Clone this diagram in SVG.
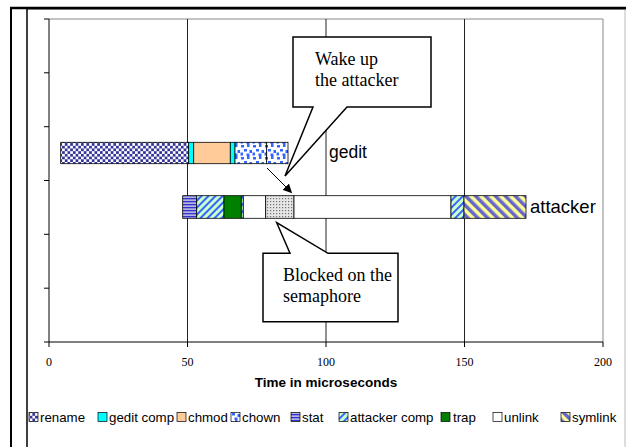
<svg xmlns="http://www.w3.org/2000/svg" width="626" height="447" viewBox="0 0 626 447">
<style>
.frame{fill:none;stroke:#000}
.grid{stroke:#222;stroke-width:1}
.axis{stroke:#000;stroke-width:1;fill:none}
.pborder{stroke:#888;stroke-width:1;fill:none}
.seg{stroke:#000;stroke-width:0.8}
.tick{font-family:"Liberation Serif","Times New Roman",serif;font-size:12px;fill:#000;text-anchor:middle}
.xtitle{font-family:"Liberation Sans",Arial,sans-serif;font-size:13.5px;font-weight:bold;fill:#000;text-anchor:middle}
.lbl{font-family:"Liberation Sans",Arial,sans-serif;font-size:17.5px;fill:#000}
.leg{font-family:"Liberation Sans",Arial,sans-serif;font-size:13.3px;fill:#000}
.call{fill:#fff;stroke:#000;stroke-width:1.5;stroke-linejoin:miter}
.ctext{font-family:"Liberation Serif","Times New Roman",serif;font-size:18px;fill:#000}
.icon{stroke:#000;stroke-width:0.7}
</style>
<defs>
<pattern id="pRename" width="5.4" height="5.4" patternUnits="userSpaceOnUse">
<rect width="5.4" height="5.4" fill="#333399"/>
<rect x="0" y="0" width="2.7" height="2.7" fill="#fff"/>
<rect x="2.7" y="2.7" width="2.7" height="2.7" fill="#fff"/>
</pattern>
<pattern id="pChown" width="12" height="12" patternUnits="userSpaceOnUse">
<rect width="12" height="12" fill="#fff"/>
<rect x="1" y="1" width="3" height="2.5" fill="#3366ff"/>
<rect x="7" y="0" width="2.5" height="3" fill="#3366ff"/>
<rect x="4" y="5" width="3" height="2.5" fill="#3366ff"/>
<rect x="9.5" y="6" width="2.5" height="3" fill="#3366ff"/>
<rect x="0.5" y="8.5" width="2.5" height="3" fill="#3366ff"/>
<rect x="6.5" y="9.5" width="3" height="2.5" fill="#3366ff"/>
</pattern>
<pattern id="pStat" width="4" height="3" patternUnits="userSpaceOnUse">
<rect width="4" height="3" fill="#b4b4e0"/>
<rect x="0" y="0" width="4" height="1.3" fill="#3333cc"/>
</pattern>
<pattern id="pAtt" width="5" height="5" patternUnits="userSpaceOnUse" patternTransform="rotate(45)">
<rect width="5" height="5" fill="#ccffcc"/>
<rect x="0" y="0" width="2" height="5" fill="#3366ff"/>
</pattern>
<pattern id="pSym" width="7" height="7" patternUnits="userSpaceOnUse" patternTransform="rotate(-45)">
<rect width="7" height="7" fill="#ffff99"/>
<rect x="0" y="0" width="3.5" height="7" fill="#6666cc"/>
</pattern>
<pattern id="pBlock" width="3" height="3" patternUnits="userSpaceOnUse">
<rect width="3" height="3" fill="#e6e6e6"/>
<rect x="0" y="0" width="1.2" height="1.2" fill="#707070"/>
</pattern>
<marker id="ah" viewBox="0 0 10 10" refX="9" refY="5" markerWidth="9" markerHeight="9" markerUnits="userSpaceOnUse" orient="auto">
<path d="M0,0 L10,5 L0,10 z" fill="#000"/>
</marker>
</defs>

<rect width="626" height="447" fill="#fff"/>

<g id="frame">
<line x1="27" y1="9.5" x2="626" y2="9.5" stroke="#999" stroke-width="1"/>
<line x1="625" y1="9.5" x2="625" y2="447" stroke="#bbb" stroke-width="1"/>
<line x1="10" y1="8" x2="626" y2="8" stroke="#000" stroke-width="2.5"/>
<line x1="11" y1="7" x2="11" y2="447" stroke="#000" stroke-width="2"/>
<line x1="27" y1="8" x2="27" y2="447" stroke="#000" stroke-width="1.5"/>
</g>

<g id="plot">
<polyline class="pborder" points="49,19 603,19 603,342"/>
<line class="grid" x1="187.5" y1="19" x2="187.5" y2="342"/>
<line class="grid" x1="326" y1="19" x2="326" y2="342"/>
<line class="grid" x1="464.5" y1="19" x2="464.5" y2="342"/>
<line class="axis" x1="49" y1="19" x2="49" y2="342"/>
<line class="axis" x1="44" y1="342" x2="603" y2="342"/>
<g class="axis">
<line x1="44" y1="19" x2="49" y2="19"/>
<line x1="44" y1="72.8" x2="49" y2="72.8"/>
<line x1="44" y1="126.7" x2="49" y2="126.7"/>
<line x1="44" y1="180.5" x2="49" y2="180.5"/>
<line x1="44" y1="234.3" x2="49" y2="234.3"/>
<line x1="44" y1="288.2" x2="49" y2="288.2"/>
<line x1="49" y1="342" x2="49" y2="347"/>
<line x1="187.5" y1="342" x2="187.5" y2="347"/>
<line x1="326" y1="342" x2="326" y2="347"/>
<line x1="464.5" y1="342" x2="464.5" y2="347"/>
<line x1="603" y1="342" x2="603" y2="347"/>
</g>
<text class="tick" x="49" y="366">0</text>
<text class="tick" x="187.5" y="366">50</text>
<text class="tick" x="326" y="366">100</text>
<text class="tick" x="464.5" y="366">150</text>
<text class="tick" x="603" y="366">200</text>
<text class="xtitle" x="326" y="387">Time in microseconds</text>
</g>

<g id="gedit">
<rect class="seg" x="60.7" y="142.3" width="128" height="21.4" fill="url(#pRename)"/>
<rect class="seg" x="188.7" y="142.3" width="5" height="21.4" fill="#00ffff"/>
<rect class="seg" x="193.7" y="142.3" width="36.6" height="21.4" fill="#ffcc99"/>
<rect class="seg" x="230.3" y="142.3" width="4.7" height="21.4" fill="#00ffff"/>
<rect class="seg" x="235" y="142.3" width="31.7" height="21.4" fill="url(#pChown)"/>
<rect class="seg" x="266.7" y="142.3" width="21.3" height="21.4" fill="url(#pChown)"/>
<text class="lbl" x="329" y="158">gedit</text>
</g>

<g id="attacker">
<rect class="seg" x="182.7" y="195.7" width="14" height="22.6" fill="url(#pStat)"/>
<rect class="seg" x="196.7" y="195.7" width="27.3" height="22.6" fill="url(#pAtt)"/>
<rect class="seg" x="224" y="195.7" width="17.3" height="22.6" fill="#008000"/>
<rect class="seg" x="241.3" y="195.7" width="2" height="22.6" fill="url(#pAtt)"/>
<rect class="seg" x="243.3" y="195.7" width="22.4" height="22.6" fill="#fff"/>
<rect class="seg" x="265.7" y="195.7" width="28.3" height="22.6" fill="url(#pBlock)"/>
<rect class="seg" x="294" y="195.7" width="157" height="22.6" fill="#fff"/>
<rect class="seg" x="451" y="195.7" width="13" height="22.6" fill="url(#pAtt)"/>
<rect class="seg" x="464" y="195.7" width="62" height="22.6" fill="url(#pSym)"/>
<text class="lbl" x="530" y="213" style="font-size:18.5px">attacker</text>
</g>

<g id="connectors">
<line x1="267" y1="168" x2="291.5" y2="192.5" stroke="#000" stroke-width="1" marker-end="url(#ah)"/>
</g>

<g id="callout-wake">
<polygon class="call" points="293,37 431,37 431,107 347,107 285,176 313,107 293,107"/>
<text class="ctext" x="315" y="65">Wake up</text>
<text class="ctext" x="315" y="86">the attacker</text>
</g>

<g id="callout-blocked">
<polygon class="call" points="263,253.3 290,253.3 276.7,222.7 328,253.3 398,253.3 398,321.7 263,321.7"/>
<text class="ctext" x="283" y="281">Blocked on the</text>
<text class="ctext" x="283" y="302">semaphore</text>
</g>

<g id="legend">
<rect class="icon" x="29" y="412.5" width="9" height="9" fill="url(#pRename)"/>
<text class="leg" x="40" y="422">rename</text>
<rect class="icon" x="98" y="412.5" width="9" height="9" fill="#00ffff"/>
<text class="leg" x="109" y="422">gedit comp</text>
<rect class="icon" x="177" y="412.5" width="9" height="9" fill="#ffcc99"/>
<text class="leg" x="188" y="422">chmod</text>
<rect class="icon" x="231" y="412.5" width="9" height="9" fill="url(#pChown)"/>
<text class="leg" x="242" y="422">chown</text>
<rect class="icon" x="291" y="412.5" width="9" height="9" fill="url(#pStat)"/>
<text class="leg" x="302" y="422">stat</text>
<rect class="icon" x="339" y="412.5" width="9" height="9" fill="url(#pAtt)"/>
<text class="leg" x="350" y="422">attacker comp</text>
<rect class="icon" x="441" y="412.5" width="9" height="9" fill="#008000"/>
<text class="leg" x="453" y="422">trap</text>
<rect class="icon" x="493" y="412.5" width="9" height="9" fill="#fff"/>
<text class="leg" x="504" y="422">unlink</text>
<rect class="icon" x="561" y="412.5" width="9" height="9" fill="url(#pSym)"/>
<text class="leg" x="572" y="422">symlink</text>
</g>
</svg>
